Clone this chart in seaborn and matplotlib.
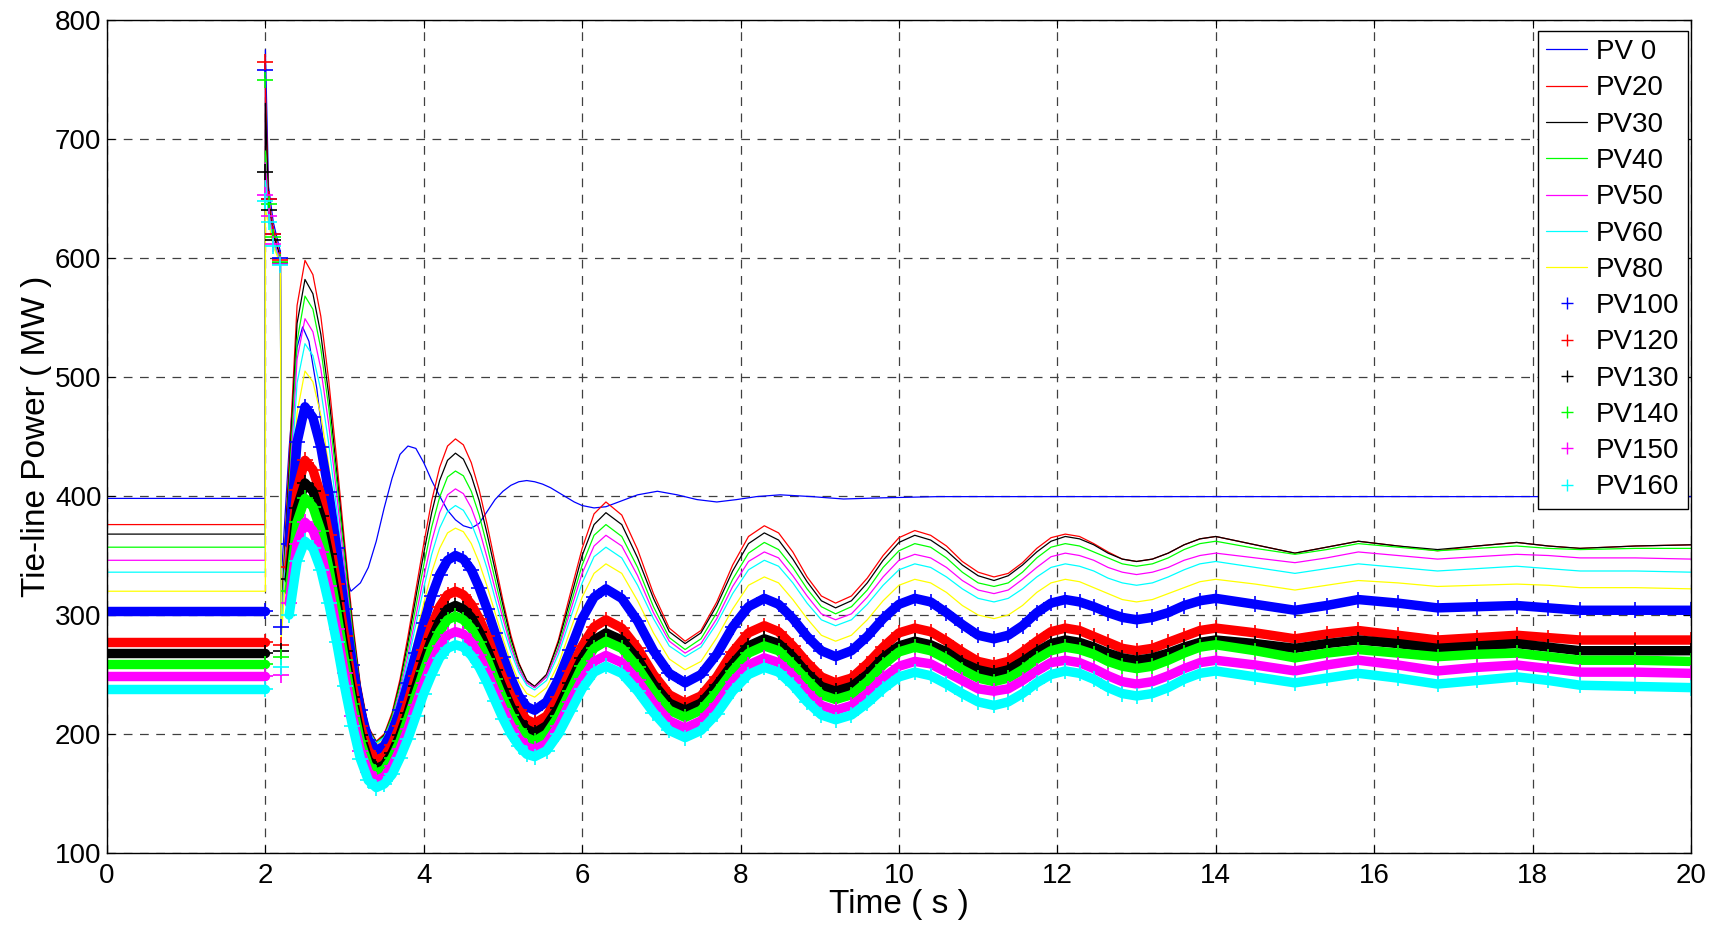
import matplotlib
matplotlib.use("Agg")
import matplotlib.pyplot as plt
from matplotlib.lines import Line2D
import seaborn as sns

# ---- time base for PV 0 (s) ----
t_pv0 = [0.0, 2.0, 2.0, 2.04, 2.1, 2.19, 2.2, 2.3, 2.4, 2.47,
         2.55, 2.65, 2.75, 2.85, 2.95, 3.08,
         3.2, 3.3, 3.4, 3.5, 3.6, 3.7, 3.8, 3.9,
         4.0, 4.1, 4.2, 4.3, 4.4, 4.5, 4.6, 4.7, 4.8, 4.9,
         5.0, 5.1, 5.2, 5.3, 5.4, 5.5, 5.6, 5.7, 5.8, 5.9,
         6.0, 6.15, 6.3, 6.5, 6.7, 6.95,
         7.2, 7.45, 7.7, 7.95, 8.2, 8.5, 8.9, 9.3, 9.8, 10.5, 20.0]
pv0 = [398, 398, 775, 660, 630, 605, 330, 440, 525, 542,
       530, 490, 435, 385, 345, 320,
       327, 340, 362, 390, 415, 435, 442, 440,
       428, 413, 400, 388, 380, 375, 373, 377, 387, 397,
       404, 409, 412, 413, 412, 410, 407, 403, 399, 395,
       392, 390, 391, 396, 401, 404,
       401, 397, 395, 397, 399.5, 401, 399.5, 397.5, 398.5, 399.5, 399.5]

# ---- time base shared by the other traces (s) ----
t = [0.0, 2.0, 2.0, 2.04, 2.1, 2.19, 2.2, 2.3, 2.4, 2.5,
     2.6, 2.7, 2.8, 2.9, 3.0, 3.1, 3.2, 3.3, 3.4,
     3.5, 3.6, 3.7, 3.8, 3.9, 4.0, 4.1, 4.2, 4.3, 4.4,
     4.5, 4.6, 4.7, 4.8, 4.9, 5.0, 5.1, 5.2, 5.3, 5.4,
     5.55, 5.7, 5.85, 6.0, 6.15, 6.3,
     6.5, 6.7, 6.9, 7.1, 7.3,
     7.5, 7.7, 7.9, 8.1, 8.3,
     8.48, 8.66, 8.84, 9.02, 9.2,
     9.4, 9.6, 9.8, 10.0, 10.2,
     10.4, 10.6, 10.8, 11.0, 11.2,
     11.38, 11.56, 11.74, 11.92, 12.1,
     12.28, 12.46, 12.64, 12.82, 13.0,
     13.2, 13.4, 13.6, 13.8, 14.0,
     14.5, 15.0, 15.4, 15.8, 16.3, 16.8, 17.3, 17.8, 18.2, 18.6, 19.3, 20.0]

# ---- tie-line power (MW) ----
pv20 = [376, 376, 745, 650, 625, 600, 300, 430, 560, 598,
        586, 551, 497, 431, 361, 295, 241, 206, 194,
        200, 218, 246, 282, 321, 360, 396, 424, 442, 448,
        443, 428, 405, 376, 344, 312, 283, 260, 245, 240,
        250, 279, 318, 356, 385, 395,
        384, 355, 318, 289, 278,
        287, 311, 342, 366, 375,
        369, 353, 332, 316, 310,
        316, 331, 350, 365, 371,
        367, 358, 345, 336, 332,
        335, 344, 356, 365, 368,
        366, 360, 353, 347, 345,
        347, 352, 359, 364, 366,
        359, 352, 357, 362, 358, 354, 358, 361, 358, 356, 358, 359]
pv30 = [368, 368, 730, 645, 620, 600, 300, 420, 545, 582,
        570, 536, 485, 421, 354, 290, 239, 205, 193,
        199, 216, 243, 277, 315, 352, 386, 413, 430, 436,
        431, 417, 396, 368, 338, 308, 280, 259, 245, 240,
        250, 277, 313, 350, 376, 386,
        376, 348, 314, 286, 276,
        285, 308, 337, 360, 369,
        363, 347, 328, 312, 306,
        312, 327, 346, 361, 367,
        363, 354, 342, 333, 329,
        333, 342, 353, 362, 366,
        364, 359, 352, 347, 345,
        347, 352, 359, 364, 366,
        359, 352, 357, 362, 358, 355, 358, 361, 358, 356, 358, 359]
pv40 = [357, 357, 690, 640, 615, 598, 295, 410, 530, 568,
        557, 524, 474, 413, 348, 287, 237, 204, 193,
        198, 215, 240, 272, 307, 342, 374, 399, 416, 421,
        417, 404, 384, 358, 330, 302, 276, 256, 243, 239,
        248, 273, 308, 342, 367, 376,
        366, 340, 307, 281, 271,
        280, 302, 330, 352, 361,
        355, 340, 322, 307, 301,
        307, 321, 340, 354, 360,
        357, 348, 336, 327, 324,
        327, 336, 348, 357, 360,
        358, 353, 348, 343, 341,
        343, 348, 355, 360, 362,
        356, 351, 355, 360, 357, 354, 356, 358, 356, 355, 356, 356]
pv50 = [346, 346, 680, 640, 615, 598, 290, 400, 515, 549,
        538, 507, 460, 402, 339, 281, 234, 203, 192,
        197, 212, 236, 266, 299, 332, 362, 386, 401, 406,
        402, 390, 372, 348, 322, 297, 273, 255, 243, 239,
        248, 271, 303, 335, 358, 367,
        358, 333, 302, 278, 268,
        276, 297, 324, 345, 353,
        348, 333, 316, 301, 296,
        301, 315, 332, 346, 351,
        348, 340, 329, 321, 318,
        321, 330, 340, 349, 352,
        350, 346, 340, 336, 334,
        336, 340, 346, 350, 352,
        348, 344, 348, 353, 350, 347, 349, 351, 350, 348, 348, 347]
pv60 = [336, 336, 665, 635, 612, 596, 285, 390, 495, 528,
        518, 489, 444, 389, 331, 276, 231, 202, 192,
        197, 211, 233, 261, 292, 323, 351, 373, 387, 392,
        388, 377, 360, 339, 314, 290, 269, 252, 241, 237,
        245, 267, 297, 327, 349, 357,
        348, 325, 297, 274, 265,
        273, 293, 318, 338, 346,
        341, 327, 310, 296, 291,
        296, 309, 325, 338, 343,
        340, 332, 322, 314, 311,
        314, 322, 332, 340, 343,
        341, 337, 331, 327, 325,
        327, 332, 338, 343, 345,
        340, 335, 339, 343, 340, 337, 339, 341, 339, 337, 337, 336]
pv80 = [320, 320, 640, 630, 610, 595, 280, 375, 470, 505,
        496, 468, 426, 375, 321, 269, 228, 200, 191,
        195, 208, 228, 254, 282, 310, 336, 356, 369, 373,
        370, 360, 344, 324, 302, 280, 260, 244, 234, 231,
        239, 259, 287, 315, 335, 343,
        335, 312, 285, 263, 254,
        261, 281, 305, 325, 332,
        327, 313, 297, 283, 278,
        283, 296, 312, 325, 330,
        327, 319, 308, 300, 297,
        300, 308, 319, 327, 330,
        328, 323, 318, 313, 311,
        313, 318, 323, 328, 330,
        326, 321, 325, 329, 327, 324, 325, 326, 325, 323, 323, 322]
pv100 = [303, 303, 758, 650, 620, 600, 290, 360, 445, 475,
         466, 441, 403, 356, 305, 258, 220, 195, 186,
         190, 202, 220, 243, 268, 293, 316, 334, 346, 350,
         347, 338, 323, 305, 285, 265, 247, 232, 223, 220,
         227, 246, 271, 297, 315, 322,
         314, 295, 270, 251, 243,
         250, 267, 290, 307, 314,
         309, 297, 282, 270, 265,
         270, 282, 297, 309, 314,
         311, 302, 292, 283, 280,
         283, 291, 302, 310, 313,
         311, 307, 302, 298, 296,
         298, 302, 308, 312, 314,
         309, 304, 308, 313, 310, 306, 307, 308, 306, 304, 304, 304]
pv120 = [277, 277, 765, 650, 620, 598, 275, 340, 405, 430,
         422, 401, 367, 326, 282, 241, 207, 186, 178,
         181, 191, 207, 227, 249, 271, 291, 307, 317, 320,
         317, 309, 297, 282, 264, 247, 232, 220, 212, 209,
         215, 231, 253, 274, 290, 296,
         289, 272, 250, 233, 226,
         232, 248, 269, 285, 291,
         286, 274, 260, 248, 243,
         247, 259, 273, 285, 289,
         286, 278, 269, 261, 258,
         261, 269, 278, 286, 289,
         287, 282, 277, 272, 270,
         272, 277, 282, 287, 289,
         285, 280, 284, 287, 283, 279, 281, 283, 281, 279, 279, 279]
pv130 = [268, 268, 672, 640, 615, 596, 270, 330, 390, 411,
         404, 383, 351, 312, 270, 231, 199, 178, 171,
         174, 184, 199, 218, 240, 261, 280, 295, 305, 308,
         305, 298, 286, 271, 254, 238, 223, 211, 204, 201,
         207, 222, 243, 264, 279, 285,
         279, 263, 242, 226, 220,
         226, 241, 259, 274, 280,
         276, 265, 251, 240, 236,
         240, 250, 264, 274, 278,
         275, 269, 260, 254, 251,
         254, 261, 269, 276, 279,
         277, 273, 268, 264, 262,
         264, 268, 273, 277, 279,
         276, 272, 276, 279, 276, 272, 274, 276, 273, 270, 270, 270]
pv140 = [259, 259, 750, 645, 618, 597, 265, 320, 378, 398,
         391, 371, 340, 303, 262, 225, 194, 174, 167,
         170, 180, 194, 213, 233, 253, 272, 286, 296, 299,
         296, 289, 277, 263, 246, 230, 216, 204, 197, 194,
         200, 215, 236, 257, 272, 278,
         272, 256, 236, 220, 214,
         220, 235, 253, 268, 274,
         270, 258, 245, 233, 229,
         233, 244, 258, 269, 273,
         270, 263, 254, 247, 244,
         247, 254, 263, 270, 273,
         271, 267, 261, 257, 255,
         257, 262, 268, 273, 275,
         270, 264, 268, 271, 268, 265, 267, 268, 265, 262, 262, 261]
pv150 = [249, 249, 653, 635, 612, 595, 250, 310, 360, 378,
         371, 353, 324, 288, 251, 215, 186, 168, 161,
         164, 173, 187, 204, 224, 243, 260, 274, 283, 286,
         284, 277, 266, 252, 236, 221, 207, 196, 189, 187,
         192, 207, 227, 246, 261, 266,
         260, 245, 226, 211, 205,
         211, 225, 244, 258, 264,
         260, 249, 235, 224, 220,
         224, 234, 247, 257, 261,
         259, 252, 245, 238, 236,
         238, 245, 253, 260, 262,
         260, 255, 249, 244, 242,
         244, 249, 255, 260, 262,
         258, 253, 258, 262, 258, 253, 256, 258, 255, 252, 252, 251]
pv160 = [238, 238, 648, 630, 610, 594, 256, 300, 345, 362,
         356, 338, 310, 277, 240, 207, 179, 161, 155,
         158, 166, 180, 196, 215, 234, 250, 264, 272, 275,
         273, 266, 256, 243, 228, 213, 200, 190, 183, 181,
         186, 200, 219, 238, 252, 257,
         251, 236, 218, 203, 197,
         203, 217, 236, 250, 256,
         252, 241, 227, 216, 212,
         216, 226, 238, 248, 252,
         249, 242, 234, 227, 224,
         227, 234, 243, 250, 253,
         251, 246, 239, 234, 232,
         234, 239, 246, 251, 253,
         248, 243, 247, 251, 247, 242, 245, 248, 245, 241, 240, 239]

x_ticks = [0, 2, 4, 6, 8, 10, 12, 14, 16, 18, 20]
y_ticks = [100, 200, 300, 400, 500, 600, 700, 800]

line_traces = [
    ("PV 0", t_pv0, pv0, "#0000FF"),
    ("PV20", t, pv20, "#FF0000"),
    ("PV30", t, pv30, "#000000"),
    ("PV40", t, pv40, "#00FF00"),
    ("PV50", t, pv50, "#FF00FF"),
    ("PV60", t, pv60, "#00FFFF"),
    ("PV80", t, pv80, "#FFFF00"),
]
marker_traces = [
    ("PV100", pv100, "#0000FF"),
    ("PV120", pv120, "#FF0000"),
    ("PV130", pv130, "#000000"),
    ("PV140", pv140, "#00FF00"),
    ("PV150", pv150, "#FF00FF"),
    ("PV160", pv160, "#00FFFF"),
]

sns.set_theme(style="white")
plt.rcParams["font.family"] = ["Liberation Sans", "DejaVu Sans"]

fig = plt.figure(figsize=(17.2, 9.26), dpi=100)
ax = fig.add_axes([0.0622, 0.0788, 0.9209, 0.8996])

for label, x, y, c in line_traces:
    sns.lineplot(x=x, y=y, ax=ax, color=c, linewidth=0.9,
                 estimator=None, sort=False, legend=False)

# marker traces: dense '+' band before the fault and after the fault clears,
# scattered '+' points during the fault transient
pre = slice(0, 2)      # t = 0 .. 2.0
post = slice(7, None)  # t = 2.3 .. 20
for label, y, c in marker_traces:
    for seg in (pre, post):
        sns.lineplot(x=t[seg], y=y[seg], ax=ax, color=c, linewidth=6.8,
                     estimator=None, sort=False, legend=False)
    sns.lineplot(x=t, y=y, ax=ax, color=c, linestyle="none",
                 estimator=None, sort=False, legend=False,
                 marker="+", markersize=11, markeredgewidth=1.2,
                 markeredgecolor=c, markerfacecolor=c)

ax.set_xlim(0, 20)
ax.set_ylim(100, 800)
ax.set_xticks(x_ticks)
ax.set_yticks(y_ticks)
ax.grid(True, color="0.25", linestyle=(0, (7, 6)), linewidth=0.9)
ax.set_axisbelow(True)
for s in ax.spines.values():
    s.set_color("black")
    s.set_linewidth(1.0)
ax.tick_params(direction="in", length=6, width=0.8, colors="black",
               top=True, right=True, bottom=True, left=True,
               labelsize=20)
ax.tick_params(axis="x", pad=7)
ax.tick_params(axis="y", pad=4)

ax.set_xlabel("Time ( s )", fontsize=24, color="black", labelpad=0)
ax.set_ylabel("Tie-line Power ( MW )", fontsize=24, color="black", labelpad=2)

handles = [Line2D([], [], color=c, linewidth=0.9) for _, _, _, c in line_traces]
handles += [Line2D([], [], color=c, linestyle="none", marker="+",
                   markersize=8, markeredgewidth=1.0) for _, _, c in marker_traces]
labels = [lab for lab, _, _, _ in line_traces] + [lab for lab, _, _ in marker_traces]
leg = ax.legend(handles, labels, loc="upper right", bbox_to_anchor=(0.998, 0.987),
                borderaxespad=0, fontsize=20, frameon=True, fancybox=False,
                edgecolor="black", framealpha=1, handlelength=1.46,
                handletextpad=0.32, labelspacing=0.37, borderpad=0.3)
leg.get_frame().set_linewidth(1.0)
for txt in leg.get_texts():
    txt.set_color("black")

fig.savefig("out.png", dpi=100)
